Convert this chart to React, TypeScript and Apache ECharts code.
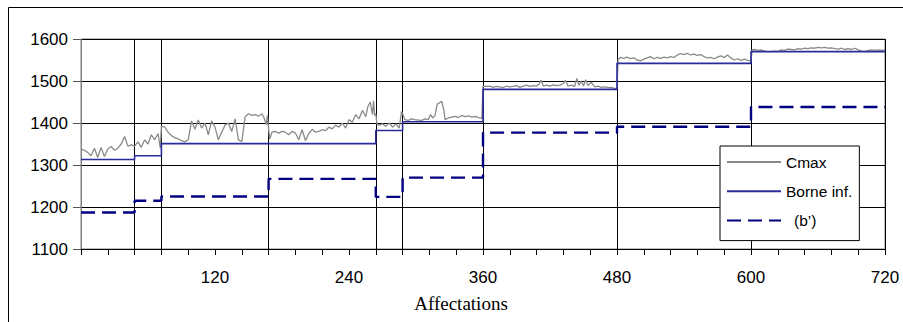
import React, { useEffect, useRef } from "react";
import * as echarts from "echarts";

// ---- data ----
const seriesNames = ["Cmax", "Borne inf.", "(b’)"];
const xTickLabels = [120, 240, 360, 480, 600, 720];
const yTicks = [1100, 1200, 1300, 1400, 1500, 1600];
const sectionBounds = [48, 72, 168, 264, 288, 360, 480, 600, 720];

const borneBreaks = [0, 48, 72, 264, 288, 360, 480, 600, 720];
const borneLevels = [1313, 1322, 1351, 1382, 1403, 1480, 1542, 1570, 1570];

const bPrimeBreaks = [0, 48, 72, 168, 264, 288, 360, 480, 600, 720];
const bPrimeLevels = [1187, 1215, 1225, 1267, 1224, 1270, 1377, 1391, 1438, 1438];

const cmaxPoints: [number, number][] = [
  [0, 1338], [3, 1335], [6, 1330], [9, 1322], [12, 1340], [15, 1318], [18, 1342], [21, 1320], [24, 1338], [27, 1344], [30, 1335], [33, 1340], [36, 1350], [39, 1368], [42, 1345], [45, 1348],
  [48, 1345], [51, 1355], [54, 1342], [57, 1360], [60, 1350], [63, 1372], [66, 1360], [69, 1375], [71, 1340],
  [72, 1392], [75, 1390], [78, 1378], [81, 1370], [84, 1365], [87, 1362], [90, 1358], [93, 1355], [96, 1360], [99, 1405], [102, 1385], [105, 1407], [108, 1388], [111, 1400], [114, 1372], [117, 1405], [120, 1390], [123, 1360], [126, 1378], [129, 1395], [132, 1400], [135, 1380], [138, 1410], [141, 1360], [144, 1356], [147, 1415], [150, 1422], [153, 1418], [156, 1420], [159, 1416], [162, 1422], [164, 1412], [166, 1396], [167, 1418],
  [168, 1386], [169, 1362], [171, 1378], [174, 1380], [177, 1376], [180, 1380], [183, 1378], [186, 1372], [189, 1380], [192, 1376], [195, 1360], [198, 1384], [201, 1358], [204, 1375], [207, 1385], [210, 1378], [213, 1380], [216, 1384], [219, 1382], [222, 1390], [225, 1386], [228, 1395], [231, 1390], [234, 1400], [237, 1388], [240, 1408], [243, 1402], [246, 1420], [249, 1410], [252, 1430], [255, 1415], [257, 1440], [259, 1450], [261, 1420], [262, 1453], [263, 1418],
  [264, 1422], [265, 1398], [267, 1395], [270, 1398], [273, 1392], [276, 1400], [279, 1390], [282, 1398], [285, 1388], [287, 1427],
  [288, 1422], [290, 1408], [293, 1406], [296, 1410], [299, 1408], [302, 1407], [305, 1406], [308, 1410], [311, 1408], [313, 1420], [315, 1412], [317, 1418], [319, 1445], [321, 1448], [323, 1452], [325, 1430], [326, 1408], [329, 1412], [332, 1414], [335, 1416], [338, 1413], [341, 1418], [344, 1415], [347, 1417], [350, 1414], [353, 1416], [356, 1413], [359, 1411],
  [360, 1488], [363, 1487], [366, 1488], [369, 1485], [372, 1487], [375, 1486], [378, 1484], [381, 1488], [384, 1486], [387, 1487], [390, 1489], [393, 1485], [396, 1488], [399, 1490], [402, 1487], [405, 1489], [408, 1488], [410, 1492], [412, 1502], [414, 1488], [417, 1490], [420, 1488], [423, 1491], [426, 1489], [429, 1490], [432, 1494], [434, 1502], [436, 1488], [439, 1490], [442, 1487], [444, 1506], [446, 1490], [448, 1500], [450, 1488], [452, 1503], [454, 1489], [457, 1497], [460, 1486], [463, 1488], [466, 1485], [469, 1486], [472, 1484], [475, 1485], [478, 1482], [480, 1483],
  [481, 1552], [483, 1556], [486, 1554], [489, 1557], [492, 1553], [495, 1555], [498, 1550], [501, 1548], [504, 1552], [507, 1555], [510, 1558], [513, 1553], [516, 1556], [519, 1554], [522, 1557], [525, 1555], [528, 1558], [531, 1556], [534, 1562], [537, 1565], [540, 1563], [543, 1566], [546, 1562], [549, 1564], [552, 1561], [555, 1563], [558, 1558], [561, 1555], [564, 1556], [567, 1553], [570, 1557], [573, 1560], [576, 1556], [579, 1562], [582, 1555], [585, 1550], [588, 1553], [591, 1549], [594, 1552], [597, 1549], [600, 1548],
  [601, 1574], [603, 1575], [606, 1573], [609, 1574], [612, 1571], [615, 1570], [618, 1570], [621, 1571], [624, 1570], [627, 1574], [630, 1573], [633, 1576], [636, 1575], [639, 1574], [642, 1577], [645, 1576], [648, 1578], [651, 1577], [654, 1579], [657, 1578], [660, 1580], [663, 1579], [666, 1580], [669, 1578], [672, 1579], [675, 1577], [678, 1576], [681, 1578], [684, 1575], [687, 1577], [690, 1575], [693, 1578], [696, 1574], [699, 1571], [702, 1570], [705, 1573], [708, 1574], [711, 1573], [714, 1574], [717, 1573], [720, 1574],
];

const SANS = "'Liberation Sans', Arial, sans-serif";
const SERIF = "'Liberation Serif', 'Times New Roman', serif";

export default function App() {
  const ref = useRef<HTMLDivElement>(null);
  useEffect(() => {
    if (!ref.current) return;
    const chart = echarts.init(ref.current, null, { renderer: "svg" });
    const borneData = borneBreaks.map((x, i) => [x, borneLevels[i]]);
    const bPrimeData = bPrimeBreaks.map((x, i) => [x, bPrimeLevels[i]]);
    chart.setOption({
      animation: false,
      backgroundColor: "#fff",
      grid: {
        left: 81,
        top: 39,
        width: 804,
        height: 210,
        show: true,
        borderColor: "#808080",
        borderWidth: 1,
        backgroundColor: "transparent",
      },
      xAxis: {
        type: "value",
        min: 0,
        max: 720,
        interval: 24,
        axisLine: { show: true, lineStyle: { color: "#000", width: 1 } },
        axisTick: { show: true, inside: false, length: 6, lineStyle: { color: "#000" } },
        axisLabel: {
          margin: 20,
          fontFamily: SANS,
          fontSize: 17,
          color: "#000",
          showMinLabel: true,
          showMaxLabel: true,
          formatter: (v: number) => (xTickLabels.includes(v) ? String(v) : ""),
        },
        splitLine: { show: false },
      },
      yAxis: {
        type: "value",
        min: yTicks[0],
        max: yTicks[yTicks.length - 1],
        interval: 100,
        axisLine: { show: true, lineStyle: { color: "#808080", width: 1 } },
        axisTick: { show: true, inside: false, length: 8, lineStyle: { color: "#555" } },
        axisLabel: {
          margin: 13,
          fontFamily: SANS,
          fontSize: 17,
          color: "#000",
          formatter: (v: number) => String(v),
        },
        splitLine: { show: true, lineStyle: { color: "#000", width: 1 } },
      },
      legend: {
        orient: "vertical",
        left: 720,
        top: 146,
        data: seriesNames,
        itemWidth: 54,
        itemHeight: 14,
        itemGap: 13.3,
        padding: [8, 7, 12, 6],
        backgroundColor: "#fff",
        borderColor: "#000",
        borderWidth: 1,
        borderRadius: 0,
        itemStyle: { opacity: 0, color: "transparent", borderColor: "transparent", borderWidth: 0 },
        textStyle: {
          fontFamily: SANS,
          fontSize: 15.5,
          color: "#000",
          rich: {
            p: { fontFamily: SANS, fontSize: 15.5, color: "#000", padding: [0, 0, 0, 8] },
          },
        },
        formatter: (name: string) => (name === seriesNames[2] ? "{p|" + name + "}" : name),
        z: 10,
      },
      graphic: [
        {
          type: "rect",
          z: -1,
          silent: true,
          shape: { x: 8.5, y: 7.5, width: 1000, height: 1000 },
          style: { fill: "none", stroke: "#000", lineWidth: 1 },
        },
        {
          type: "text",
          x: 461,
          y: 303,
          silent: true,
          style: {
            text: "Affectations",
            font: "19px " + SERIF,
            fill: "#000",
            textAlign: "center",
            textVerticalAlign: "middle",
          },
        },
      ],
      series: [
        {
          name: seriesNames[0],
          type: "line",
          data: cmaxPoints,
          symbol: "none",
          z: 3,
          lineStyle: { color: "#8a8a8a", width: 1.3 },
          itemStyle: { color: "#8a8a8a" },
          markLine: {
            silent: true,
            symbol: ["none", "none"],
            label: { show: false },
            z: 1,
            lineStyle: { color: "#000", width: 1, type: "solid" },
            data: sectionBounds.map((x) => ({ xAxis: x })),
          },
        },
        {
          name: seriesNames[1],
          type: "line",
          step: "end",
          data: borneData,
          symbol: "none",
          z: 4,
          lineStyle: { color: "#2b2b9b", width: 1.6 },
          itemStyle: { color: "#2b2b9b" },
        },
        {
          name: seriesNames[2],
          type: "line",
          step: "end",
          data: bPrimeData,
          symbol: "none",
          z: 4,
          lineStyle: { color: "#000080", width: 2.4, type: [14, 7] },
          itemStyle: { color: "#000080" },
        },
      ],
    });
    return () => chart.dispose();
  }, []);
  return (
    <div
      ref={ref}
      style={{ position: "fixed", left: 0, top: 0, width: 903, height: 322, background: "#fff" }}
    />
  );
}
